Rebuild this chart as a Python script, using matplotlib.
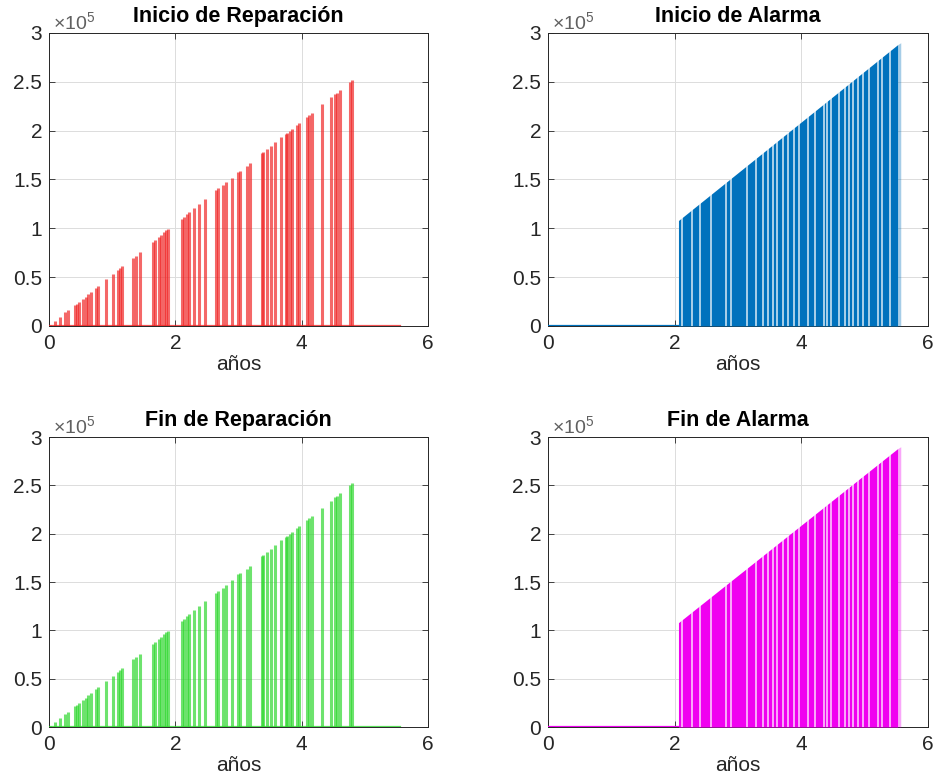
# ----------------------------------------------------------
# reparaciones / alarmas : recreacion de la figura 2x2
# ----------------------------------------------------------
import matplotlib
matplotlib.use('Agg')
import matplotlib.pyplot as plt
from matplotlib.ticker import FuncFormatter

# ----------------------------------------------------------
# datos (eje y en unidades de 1e5)
# ----------------------------------------------------------
rep_t = [0.01, 0.09, 0.17, 0.26, 0.30, 0.41, 0.44, 0.48, 0.54, 0.58, 0.62, 0.67,
         0.75, 0.78, 0.91, 1.01, 1.09, 1.13, 1.16, 1.33, 1.38, 1.44, 1.64, 1.68,
         1.74, 1.78, 1.82, 1.86, 1.89, 2.10, 2.14, 2.19, 2.22, 2.30, 2.38, 2.47,
         2.64, 2.68, 2.75, 2.80, 2.89, 3.00, 3.03, 3.13, 3.19, 3.37, 3.39, 3.45,
         3.51, 3.58, 3.68, 3.75, 3.77, 3.82, 3.84, 3.92, 3.96, 4.08, 4.12, 4.16,
         4.32, 4.46, 4.53, 4.56, 4.61, 4.77, 4.80]
rep_v = [0.01, 0.05, 0.09, 0.14, 0.16, 0.22, 0.23, 0.25, 0.28, 0.30, 0.33, 0.35,
         0.39, 0.41, 0.48, 0.53, 0.57, 0.59, 0.61, 0.70, 0.72, 0.76, 0.86, 0.88,
         0.91, 0.93, 0.96, 0.98, 0.99, 1.10, 1.12, 1.15, 1.17, 1.21, 1.25, 1.30,
         1.39, 1.41, 1.44, 1.47, 1.52, 1.58, 1.59, 1.64, 1.67, 1.77, 1.78, 1.81,
         1.84, 1.88, 1.93, 1.97, 1.98, 2.00, 2.02, 2.06, 2.08, 2.14, 2.16, 2.18,
         2.27, 2.34, 2.38, 2.39, 2.42, 2.50, 2.52]
rep_end = 5.55  # fin de la simulacion (linea en cero)

# alarma: bloque continuo con huecos
alarm_edge_t = [2.06, 5.52]
alarm_edge_v = [1.08, 2.88]
alarm_last_t = [5.52, 5.57]
alarm_last_v = [2.88, 2.90]
alarm_gaps = [2.12, 2.27, 2.40, 2.57, 2.81, 2.89, 3.14, 3.29, 3.40, 3.48, 3.55,
              3.62, 3.71, 3.79, 3.89, 3.97, 4.11, 4.22, 4.36, 4.41, 4.47, 4.60,
              4.69, 4.76, 4.82, 4.90, 4.98, 5.07, 5.21, 5.27, 5.40]

titles = ['Inicio de Reparación', 'Inicio de Alarma', 'Fin de Reparación', 'Fin de Alarma']
colors = ['#f02828', '#0072bd', '#30d830', '#f000f0']
xticks = [0, 2, 4, 6]
yticks = [0, 0.5, 1, 1.5, 2, 2.5, 3]

# ----------------------------------------------------------
# estilo
# ----------------------------------------------------------
plt.rcParams['font.family'] = ['Liberation Sans', 'DejaVu Sans']
plt.rcParams['mathtext.fontset'] = 'custom'
plt.rcParams['mathtext.rm'] = 'Liberation Sans'
plt.rcParams['mathtext.it'] = 'Liberation Sans'
plt.rcParams['mathtext.bf'] = 'Liberation Sans:bold'

fig = plt.figure(figsize=(9.35, 7.81), dpi=100)
pos = [[0.0524, 0.5826, 0.4053, 0.3752],
       [0.5861, 0.5826, 0.4064, 0.3752],
       [0.0524, 0.0691, 0.4053, 0.3713],
       [0.5861, 0.0691, 0.4064, 0.3713]]

for i in range(4):
	ax = fig.add_axes(pos[i])
	col = colors[i]
	if i % 2 == 0:
		# reparaciones: picos
		ax.plot([0, rep_end], [0, 0], color=col, linewidth=1.6, alpha=0.8, zorder=3)
		ax.vlines(rep_t, 0, [v * 1e5 for v in rep_v], colors=col, linewidth=2.2,
		          alpha=0.7, zorder=3)
	else:
		# alarmas: bloque relleno con huecos
		ax.plot([0, alarm_edge_t[0]], [0, 0], color=col, linewidth=1.6, zorder=3)
		poly = ax.fill_between(alarm_edge_t, 0, [v * 1e5 for v in alarm_edge_v],
		                       color=col, linewidth=0, zorder=3)
		ax.fill_between(alarm_last_t, 0, [v * 1e5 for v in alarm_last_v],
		                color=col, alpha=0.35, linewidth=0, zorder=3)
		gaps = ax.vlines(alarm_gaps, 0, 3e5, colors='white', linewidth=1.1,
		                 alpha=0.85, zorder=4)
		# huecos solo dentro del bloque
		gaps.set_clip_path(poly.get_paths()[0], poly.get_transform())
	ax.set_xlim(0, 6)
	ax.set_ylim(0, 3e5)
	ax.set_xticks(xticks)
	ax.set_yticks([y * 1e5 for y in yticks])
	ax.yaxis.set_major_formatter(FuncFormatter(lambda v, p: '%g' % (v / 1e5)))
	ax.grid(True, color='#dcdcdc', linewidth=0.7)
	ax.set_axisbelow(True)
	ax.tick_params(direction='in', top=True, right=True, length=4, width=0.6,
	               labelsize=15, colors='#262626', pad=5)
	ax.tick_params(axis='x', pad=6)
	for s in ax.spines.values():
		s.set_color('#262626')
		s.set_linewidth(0.7)
	ax.set_title(titles[i], fontsize=15.5, fontweight='bold', pad=8)
	ax.set_xlabel('años', fontsize=15, color='#262626', labelpad=1)
	ax.text(0.01, 1.0, r'$\times10^5$', transform=ax.transAxes, fontsize=14,
	        color='#606060', ha='left', va='bottom')

plt.savefig('out.png', dpi=100)
plt.close()
